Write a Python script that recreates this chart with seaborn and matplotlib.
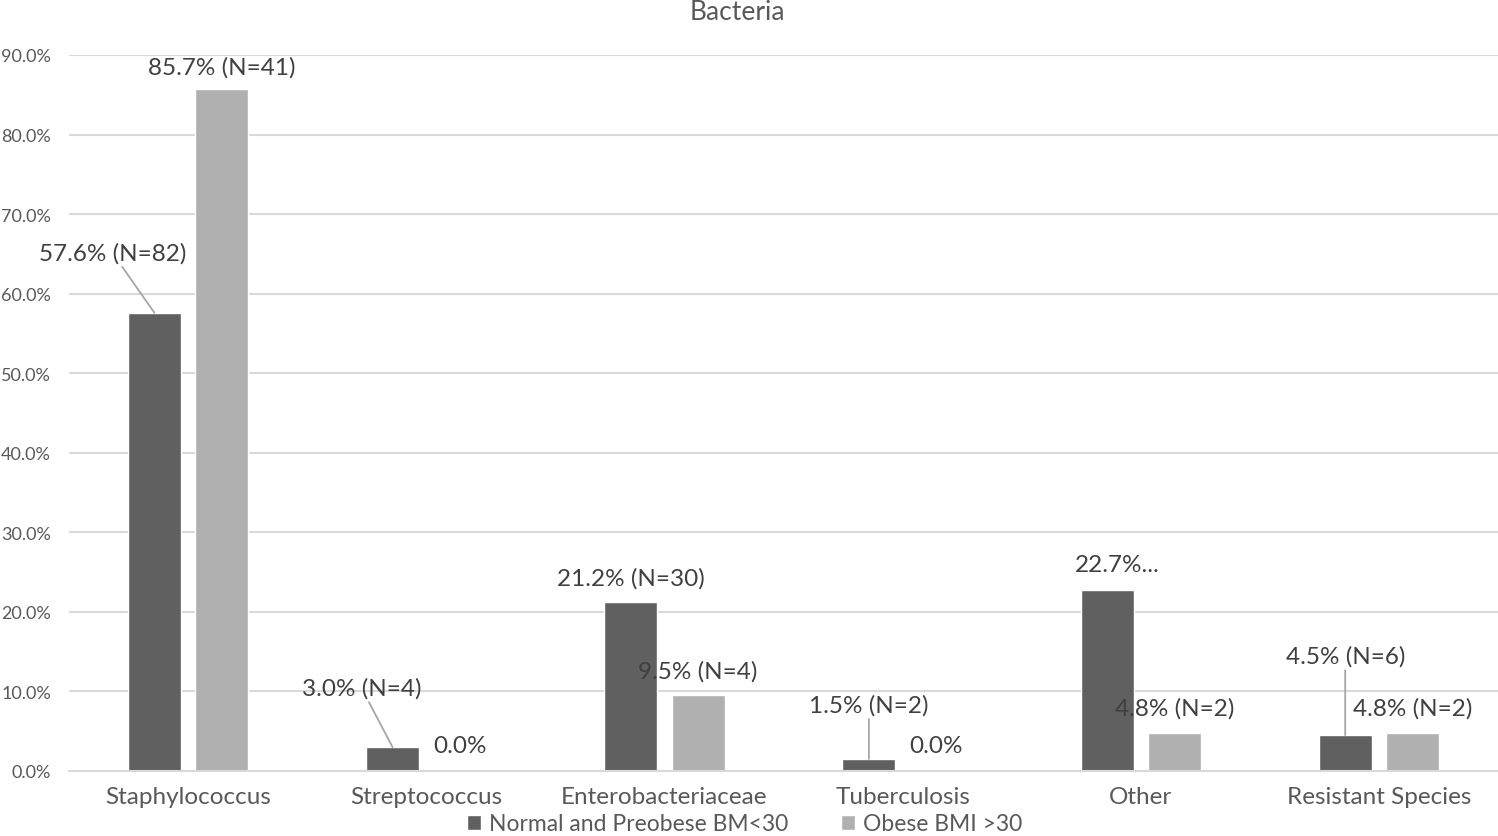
import pandas as pd
import matplotlib.pyplot as plt
import seaborn as sns
from matplotlib.ticker import PercentFormatter

# Data
categories = ["Staphylococcus", "Streptococcus", "Enterobacteriaceae",
              "Tuberculosis", "Other", "Resistant Species"]
groups = ["Normal and Preobese BM<30", "Obese BMI >30"]
normal_vals = [0.576, 0.030, 0.212, 0.015, 0.227, 0.045]
obese_vals = [0.857, 0.000, 0.095, 0.000, 0.048, 0.048]
normal_labels = ["57.6% (N=82)", "3.0% (N=4)", "21.2% (N=30)", "1.5% (N=2)",
                 "22.7%...", "4.5% (N=6)"]
obese_labels = ["85.7% (N=41)", "0.0%", "9.5% (N=4)", "0.0%",
                "4.8% (N=2)", "4.8% (N=2)"]

# label offsets in pixels from bar top (dx, dy, leader line)
normal_offsets = [(-42, 60, True), (-31, 59, True), (0, 25, False),
                  (0, 54, True), (10, 26, False), (0, 79, True)]
obese_offsets = [(0, 22, False)] + [(0, 25, False)] * 5

df = pd.DataFrame({
    "category": categories * 2,
    "value": normal_vals + obese_vals,
    "group": [groups[0]] * len(categories) + [groups[1]] * len(categories),
})

sns.set_style("white")
plt.rcParams['font.family'] = ['Lato', 'DejaVu Sans']

fig = plt.figure(figsize=(14.98, 8.37), dpi=100)
ax = fig.add_axes([69 / 1498, 65 / 837, 1 - 69 / 1498, (772 - 56) / 837])

palette = {groups[0]: "#606060", groups[1]: "#b0b0b0"}
sns.barplot(data=df, x="category", y="value", hue="group", palette=palette,
            width=0.566, gap=0.215, ax=ax, saturation=1, legend=True)

ax.set_ylim(0, 0.9)
ax.set_yticks([i / 10 for i in range(10)])
ax.yaxis.set_major_formatter(PercentFormatter(1.0, decimals=1))
ax.grid(axis="y", color="#d9d9d9", linewidth=1.5)
ax.set_axisbelow(True)
for s in ["top", "right", "left"]:
    ax.spines[s].set_visible(False)
ax.spines["bottom"].set_color("#d9d9d9")
ax.spines["bottom"].set_linewidth(1.5)
ax.set_xlabel("")
ax.set_ylabel("")
ax.tick_params(axis="y", labelsize=13, colors="#595959", length=0, pad=13)
ax.tick_params(axis="x", labelsize=17.5, colors="#595959", length=0, pad=11)

# data labels
for container, labels, offsets in zip(ax.containers, [normal_labels, obese_labels],
                                      [normal_offsets, obese_offsets]):
    for bar, lab, (dx, dy, leader) in zip(container, labels, offsets):
        x = bar.get_x() + bar.get_width() / 2
        y = bar.get_height()
        arrow = dict(arrowstyle="-", color="#a6a6a6", lw=1.3,
                     shrinkA=0, shrinkB=0) if leader else None
        ax.annotate(lab, xy=(x, y), xytext=(dx, dy), textcoords="offset pixels",
                    ha="center", va="center", fontsize=17.5, color="#404040",
                    arrowprops=arrow, annotation_clip=False)

handles, labels = ax.get_legend_handles_labels()
ax.get_legend().remove()
fig.legend(handles, labels, loc="center", bbox_to_anchor=(0.497, 0.0145), ncol=2,
           frameon=False, fontsize=16.5, handlelength=0.6, handleheight=0.6,
           handletextpad=0.35, columnspacing=2.3, labelcolor="#595959",
           borderpad=0.1)

fig.text(0.492, 0.985, "Bacteria", ha="center", va="center",
         fontsize=19, color="#595959")

fig.savefig("out.png", dpi=100)
